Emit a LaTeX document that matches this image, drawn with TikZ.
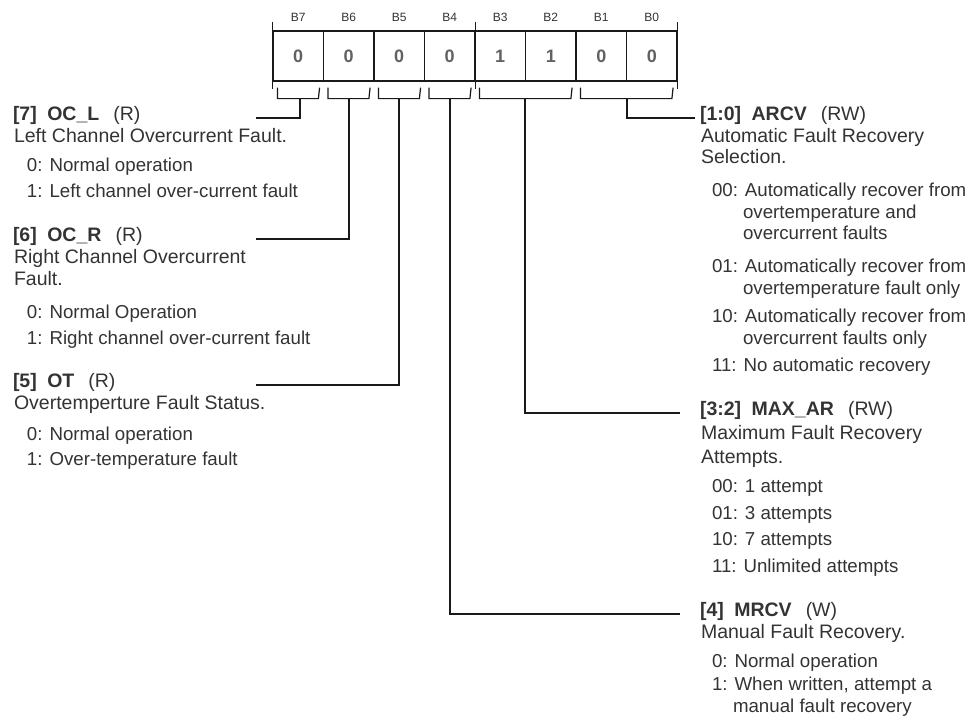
\documentclass[tikz,border=0pt]{standalone}
\usepackage{fontspec}
\setmainfont{Liberation Sans}
\begin{document}
\begin{tikzpicture}[x=1pt,y=-1pt,
  txt/.style={anchor=base west,inner sep=0pt,outer sep=0pt,font=\fontsize{19.5}{21}\selectfont,text=black!80},
  itm/.style={txt,font=\fontsize{18.7}{21}\selectfont},
  cell/.style={draw=black!90,line width=1.2pt,minimum width=50.5pt,minimum height=50pt,inner sep=0pt,
    font=\fontsize{18}{18}\selectfont\bfseries,text=black!62},
  bitlbl/.style={anchor=base,inner sep=0pt,font=\fontsize{12}{12}\selectfont,text=black!80},
  reg/.style={draw=black!90,line width=1.2pt},
  conn/.style={draw=black!90,line width=1.2pt}]
\useasboundingbox (0,0) rectangle (967,721);
% register cells
\node[cell] (c7) at (298.25,56) {0};
\node[cell] (c6) at (348.75,56) {0};
\node[cell] (c5) at (399.25,56) {0};
\node[cell] (c4) at (449.75,56) {0};
\node[cell] (c3) at (500.25,56) {1};
\node[cell] (c2) at (550.75,56) {1};
\node[cell] (c1) at (601.25,56) {0};
\node[cell] (c0) at (651.75,56) {0};
% bit labels
\node[bitlbl] (l7) at (298.25,21.5) {B7};
\node[bitlbl] (l6) at (348.75,21.5) {B6};
\node[bitlbl] (l5) at (399.25,21.5) {B5};
\node[bitlbl] (l4) at (449.75,21.5) {B4};
\node[bitlbl] (l3) at (500.25,21.5) {B3};
\node[bitlbl] (l2) at (550.75,21.5) {B2};
\node[bitlbl] (l1) at (601.25,21.5) {B1};
\node[bitlbl] (l0) at (651.75,21.5) {B0};
% nibble ticks
\draw[reg] ([yshift=8pt]c7.north west) -- ([yshift=-7pt]c7.south west);
\draw[reg] ([yshift=8pt]c4.north east) -- ([yshift=-7pt]c4.south east);
\draw[reg] ([yshift=8pt]c0.north east) -- ([yshift=-7pt]c0.south east);
% brackets
\draw[reg] ([xshift=5pt,yshift=-6pt]c7.south west) |- ++(41,11) -- ([xshift=-4.5pt,yshift=-6pt]c7.south east);
\draw[reg] ([xshift=5pt,yshift=-6pt]c6.south west) |- ++(41,11) -- ([xshift=-4.5pt,yshift=-6pt]c6.south east);
\draw[reg] ([xshift=5pt,yshift=-6pt]c5.south west) |- ++(41,11) -- ([xshift=-4.5pt,yshift=-6pt]c5.south east);
\draw[reg] ([xshift=5pt,yshift=-6pt]c4.south west) |- ++(41,11) -- ([xshift=-4.5pt,yshift=-6pt]c4.south east);
\draw[reg] ([xshift=5pt,yshift=-6pt]c3.south west) |- ++(91.5,11) -- ([xshift=-4.5pt,yshift=-6pt]c2.south east);
\draw[reg] ([xshift=5pt,yshift=-6pt]c1.south west) |- ++(91.5,11) -- ([xshift=-4.5pt,yshift=-6pt]c0.south east);
% stem coordinates
\coordinate (s7) at (300,98);
\coordinate (s6) at (349,98);
\coordinate (s5) at (399,98);
\coordinate (s4) at (450,98);
\coordinate (s32) at (525,98);
\coordinate (s10) at (627,98);
\coordinate (e7) at (256,118);
\coordinate (e6) at (256,239);
\coordinate (e5) at (256,385);
\coordinate (e10) at (695,118);
\coordinate (e32) at (680,413);
\coordinate (e4) at (680,614);
\draw[conn] (s7) |- (e7);
\draw[conn] (s6) |- (e6);
\draw[conn] (s5) |- (e5);
\draw[conn] (s10) |- (e10);
\draw[conn] (s32) |- (e32);
\draw[conn] (s4) |- (e4);
% left texts
\node[txt] (h7) at (13,120) {\textbf{[7]}\hspace{10.5pt}\textbf{OC\_L}\hspace{14pt}(R)};
\node[txt] (d7) at (14,142) {Left Channel Overcurrent Fault.};
\node[itm] (i7a) at (27,171) {0: Normal operation};
\node[itm] (i7b) at (27,197) {1: Left channel over-current fault};
\node[txt] (h6) at (13,241) {\textbf{[6]}\hspace{10.5pt}\textbf{OC\_R}\hspace{14pt}(R)};
\node[txt] (d6a) at (14,263) {Right Channel Overcurrent};
\node[txt] (d6b) at (14,285) {Fault.};
\node[itm] (i6a) at (27,318) {0: Normal Operation};
\node[itm] (i6b) at (27,344) {1: Right channel over-current fault};
\node[txt] (h5) at (13,387) {\textbf{[5]}\hspace{10.5pt}\textbf{OT}\hspace{14pt}(R)};
\node[txt] (d5) at (14,409) {Overtemperture Fault Status.};
\node[itm] (i5a) at (27,440) {0: Normal operation};
\node[itm] (i5b) at (27,465) {1: Over-temperature fault};
% right texts
\node[txt] (h10) at (700,120) {\textbf{[1:0]}\hspace{10.5pt}\textbf{ARCV}\hspace{14pt}(RW)};
\node[txt] (d10a) at (701,142) {Automatic Fault Recovery};
\node[txt] (d10b) at (701,163) {Selection.};
\node[itm] (i10a) at (712,196) {00: Automatically recover from};
\node[itm] (i10a2) at (743,218) {overtemperature and};
\node[itm] (i10a3) at (743,239) {overcurrent faults};
\node[itm] (i10b) at (712,272) {01: Automatically recover from};
\node[itm] (i10b2) at (743,294) {overtemperature fault only};
\node[itm] (i10c) at (712,322) {10: Automatically recover from};
\node[itm] (i10c2) at (743,344) {overcurrent faults only};
\node[itm] (i10d) at (712,371) {11: No automatic recovery};
\node[txt] (h32) at (700,415) {\textbf{[3:2]}\hspace{10.5pt}\textbf{MAX\_AR}\hspace{14pt}(RW)};
\node[txt] (d32a) at (701,439) {Maximum Fault Recovery};
\node[txt] (d32b) at (701,463) {Attempts.};
\node[itm] (i32a) at (712,492) {00: 1 attempt};
\node[itm] (i32b) at (712,519) {01: 3 attempts};
\node[itm] (i32c) at (712,545) {10: 7 attempts};
\node[itm] (i32d) at (712,572) {11: Unlimited attempts};
\node[txt] (h4) at (700,616) {\textbf{[4]}\hspace{10.5pt}\textbf{MRCV}\hspace{14pt}(W)};
\node[txt] (d4) at (701,638) {Manual Fault Recovery.};
\node[itm] (i4a) at (712,667) {0: Normal operation};
\node[itm] (i4b) at (712,690) {1: When written, attempt a};
\node[itm] (i4b2) at (733,712) {manual fault recovery};
\end{tikzpicture}
\end{document}
